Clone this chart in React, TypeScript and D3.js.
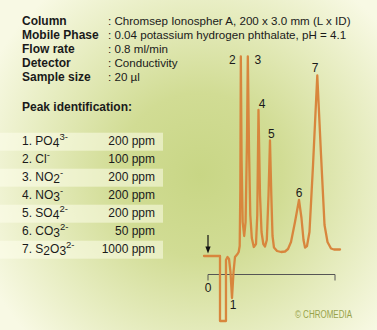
import React, { useEffect } from "react";
import * as d3 from "d3";

// ---- Conditions text ----
const conditionLabels = ["Column", "Mobile Phase", "Flow rate", "Detector", "Sample size"];
const conditionValues = [
  "Chromsep Ionospher A, 200 x 3.0 mm (L x ID)",
  "0.04 potassium hydrogen phthalate, pH = 4.1",
  "0.8 ml/min",
  "Conductivity",
  "20 µl",
];

// ---- Peak identification table ----
const ionIds = [1, 2, 3, 4, 5, 6, 7];
const ionFormulas = ["PO4", "Cl", "NO2", "NO3", "SO4", "CO3", "S2O3"];
const ionCharges = ["3-", "-", "-", "-", "2-", "2-", "2-"];
const ionConcentrations = [200, 100, 200, 200, 200, 50, 1000];
const concentrationUnit = "ppm";

// ---- Chromatogram trace (time in min, signal in arbitrary units) ----
const traceTime = [
  -0.63, 1.89, 1.89, 2.83, 2.83, 3.07, 3.31, 3.54, 3.78, 4.02, 4.25, 4.65, 4.83, 4.99,
  5.09, 5.17, 5.29, 5.46, 5.7, 5.92, 6.14, 6.27, 6.46, 6.66, 6.9, 7.21, 7.56, 7.76,
  7.95, 8.19, 8.43, 8.71, 8.98, 9.26, 9.53, 9.76, 9.97, 10.16, 10.39, 10.87, 11.5,
  12.13, 12.6, 13.07, 13.7, 14.33, 14.72, 15.04, 15.28, 15.59, 15.98, 16.54, 17.21,
  17.8, 18.35, 18.82, 19.37, 19.84, 20.79,
];
const traceSignal = [
  0, 0, -32.5, -32.5, -2, -0.5, -1.5, -8, -21, -8, -0.5, 1, 2, 5,
  33, 99.75, 48, 17, 10, 17, 58, 99.75, 53, 20.5, 9, 4.5, 6, 20.5,
  73, 30.5, 12, 6, 4.75, 8, 30.5, 57.75, 30.5, 10, 4.25, 2.5, 2,
  2.25, 3.5, 7, 17, 28, 19, 8, 4.25, 5, 12, 45.5, 90.25,
  50.5, 15.5, 7, 3.75, 3.25, 3.25,
];

// ---- Peak apexes (for labels) ----
const peakIds = ["1", "2", "3", "4", "5", "6", "7"];
const peakTimes = [3.78, 5.17, 6.27, 7.95, 9.76, 14.33, 17.21];
const peakSignals = [-21, 99.75, 99.75, 73, 57.75, 28, 90.25];

const axisTimeDomain = [0, 20];
const signalDomain = [0, 100];
const injectionTime = 0;

const FONT = "'Liberation Sans', Arial, Helvetica, sans-serif";
const TEXT = "#1a1a1a";
const ORANGE = "#d8863d";

// label offsets relative to apex (px)
const labelOffsets: [number, number][] = [
  [1, 11], [-8.5, 7], [10, 7.5], [3.5, -2.5], [1.3, -2.3], [0, -3.3], [-2.3, -3.2],
];

function Formula({ formula, charge }: { formula: string; charge: string }) {
  const parts = formula.match(/[A-Za-z]+|\d+/g) || [];
  const spans: React.ReactNode[] = [];
  let offset = 0;
  parts.forEach((p, i) => {
    const isDigit = /\d/.test(p);
    const target = isDigit ? 2 : 0;
    spans.push(
      <tspan key={i} dy={target - offset}>
        {p}
      </tspan>
    );
    offset = target;
  });
  spans.push(
    <tspan key="c" dy={-5 - offset} fontSize={9.5}>
      {charge}
    </tspan>
  );
  return <>{spans}</>;
}

export default function App() {
  useEffect(() => {
    document.body.style.margin = "0";
  }, []);

  const W = 377;
  const H = 330;
  const x = d3.scaleLinear().domain(axisTimeDomain).range([208, 335]);
  const y = d3.scaleLinear().domain(signalDomain).range([256, 56]);

  const pts: [number, number][] = traceTime.map((t, i) => [t, traceSignal[i]]);
  const line = d3
    .line<[number, number]>()
    .x((d) => x(d[0]))
    .y((d) => y(d[1]))
    .curve(d3.curveLinear);

  const axisY = 274.5;
  const rowPitch = 18;

  return (
    <svg width={W} height={H} style={{ position: "absolute", left: 0, top: 0, display: "block" }}>
      <defs>
        <radialGradient id="bg" gradientUnits="userSpaceOnUse" cx={200} cy={175} r={235}>
          <stop offset="0" stopColor="#c8d685" />
          <stop offset="0.35" stopColor="#d1dc94" />
          <stop offset="0.7" stopColor="#e6ecbf" />
          <stop offset="1" stopColor="#f8f9e4" />
        </radialGradient>
      </defs>
      <rect x={0} y={0} width={W} height={H} fill="url(#bg)" />

      {/* Conditions */}
      <g fontFamily={FONT} fontSize={12} fill={TEXT}>
        {conditionLabels.map((lab, i) => (
          <g key={lab}>
            <text x={22} y={25.3 + i * 14} fontWeight="bold">
              {lab}
            </text>
            <text x={108} y={25.3 + i * 14} fontSize={11.6}>
              {": " + conditionValues[i]}
            </text>
          </g>
        ))}
        <text x={22} y={110.5} fontWeight="bold">
          Peak identification:
        </text>
      </g>

      {/* Table */}
      <g fontFamily={FONT} fontSize={12} fill={TEXT}>
        {ionIds.map((id, i) => (
          <g key={id}>
            {i % 2 === 0 && (
              <rect x={0} y={132.7 + i * rowPitch} width={163} height={18} fill="rgba(255,255,240,0.5)" />
            )}
            <text x={22} y={145 + i * rowPitch}>
              <tspan>{id + ". "}</tspan>
              <Formula formula={ionFormulas[i]} charge={ionCharges[i]} />
            </text>
            <text x={155} y={145 + i * rowPitch} textAnchor="end">
              {ionConcentrations[i] + " " + concentrationUnit}
            </text>
          </g>
        ))}
      </g>

      {/* Axis */}
      <g stroke="#555" strokeWidth={1} fill="none">
        <line x1={x(axisTimeDomain[0])} x2={x(axisTimeDomain[1])} y1={axisY} y2={axisY} />
        <line x1={x(axisTimeDomain[0])} x2={x(axisTimeDomain[0])} y1={axisY} y2={axisY + 6} />
        <line x1={x(axisTimeDomain[1])} x2={x(axisTimeDomain[1])} y1={axisY} y2={axisY + 6} />
      </g>
      <text x={x(0)} y={291.7} fontFamily={FONT} fontSize={12} fill={TEXT} textAnchor="middle">
        0
      </text>

      {/* Injection arrow */}
      <g>
        <line x1={x(injectionTime)} x2={x(injectionTime)} y1={235} y2={248} stroke="#111" strokeWidth={1.2} />
        <path
          d={`M${x(injectionTime) - 2.6},246.5 L${x(injectionTime) + 2.6},246.5 L${x(injectionTime)},253.5 Z`}
          fill="#111"
        />
      </g>

      {/* Trace */}
      <path
        d={line(pts) || ""}
        fill="none"
        stroke={ORANGE}
        strokeWidth={2.3}
        strokeLinejoin="round"
        strokeLinecap="round"
      />

      {/* Peak labels */}
      <g fontFamily={FONT} fontSize={12} fill={TEXT} textAnchor="middle">
        {peakIds.map((p, i) => (
          <text key={p} x={x(peakTimes[i]) + labelOffsets[i][0]} y={y(peakSignals[i]) + labelOffsets[i][1]}>
            {p}
          </text>
        ))}
      </g>

      <text
        x={295}
        y={317.5}
        fontFamily="'Liberation Sans Narrow', 'Liberation Sans', Arial, sans-serif"
        fontSize={10}
        fill="#97a34a"
        textLength={57}
        lengthAdjust="spacingAndGlyphs"
      >
        © CHROMEDIA
      </text>
    </svg>
  );
}
